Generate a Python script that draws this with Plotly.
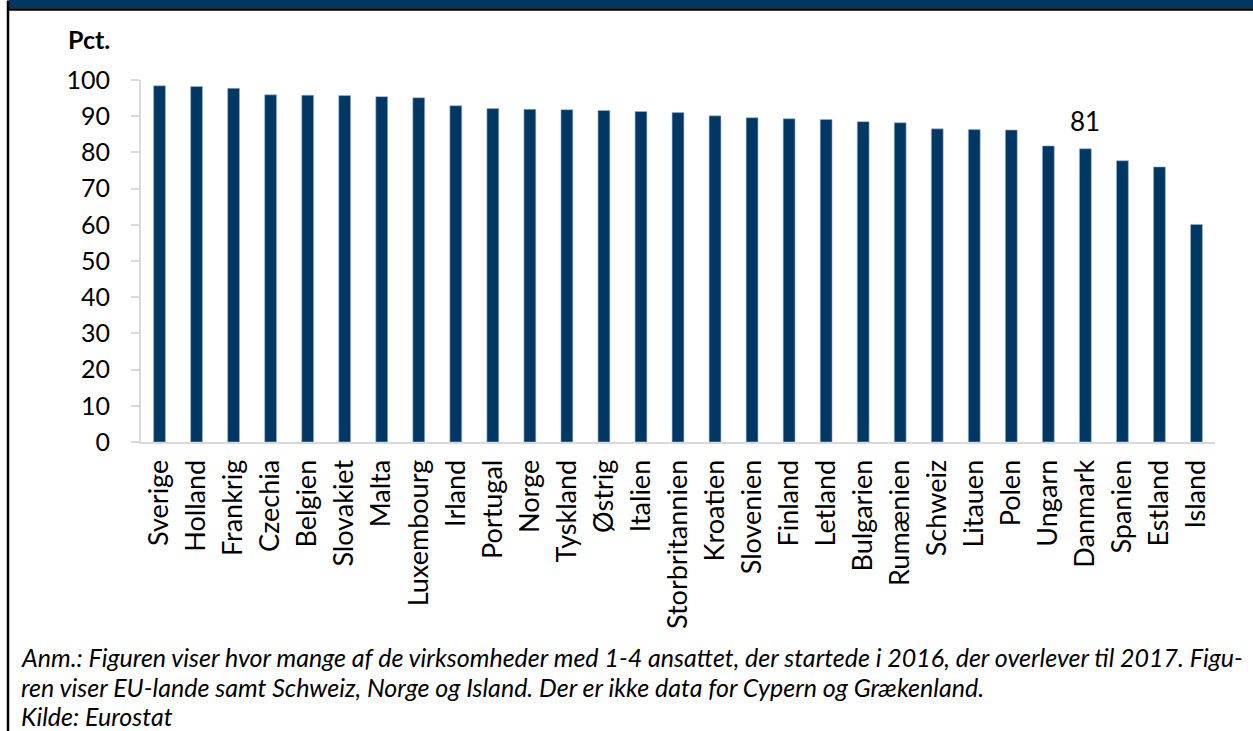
import plotly.graph_objects as go

countries = ["Sverige", "Holland", "Frankrig", "Czechia", "Belgien", "Slovakiet", "Malta",
             "Luxembourg", "Irland", "Portugal", "Norge", "Tyskland", "Østrig", "Italien",
             "Storbritannien", "Kroatien", "Slovenien", "Finland", "Letland", "Bulgarien",
             "Rumænien", "Schweiz", "Litauen", "Polen", "Ungarn", "Danmark", "Spanien",
             "Estland", "Island"]
values = [98.4, 98.2, 97.7, 95.9, 95.8, 95.7, 95.4, 95.1, 92.9, 92.1, 91.9, 91.8, 91.6, 91.3,
          91.0, 90.1, 89.6, 89.3, 89.1, 88.5, 88.2, 86.5, 86.3, 86.2, 81.8, 81.0, 77.7,
          76.0, 60.1]
yticks = [0, 10, 20, 30, 40, 50, 60, 70, 80, 90, 100]
highlight = "Danmark"
highlight_label = "81"

W, H = 1253, 731
L, R, T, B = 141, 38, 79.5, 289
pw, ph = W - L - R, H - T - B


def px(x):
    return (x - L) / pw


def py(y):
    return (H - B - y) / ph


NAVY = "#003763"
FONT = "Lato"

fig = go.Figure()
fig.add_trace(go.Bar(
    x=countries, y=values,
    marker=dict(color=NAVY, line=dict(color="#9bb8d3", width=0.6)),
    hoverinfo="x+y",
))

fig.add_annotation(x=highlight, y=values[countries.index(highlight)], text=highlight_label,
                   showarrow=False, yanchor="bottom", yshift=10,
                   font=dict(family=FONT, size=26, color="#000000"))

fig.add_annotation(xref="paper", yref="paper", x=px(89), y=py(38), text="<b>Pct.</b>",
                   showarrow=False, xanchor="center", yanchor="middle",
                   font=dict(family=FONT, size=25, color="#000000"))

footer = [
    "Anm.: Figuren viser hvor mange af de virksomheder med 1-4 ansattet, der startede i 2016, der overlever til 2017. Figu-",
    "ren viser EU-lande samt Schweiz, Norge og Island. Der er ikke data for Cypern og Grækenland.",
    "Kilde: Eurostat",
]
for line, yc in zip(footer, [657, 687, 716]):
    fig.add_annotation(xref="paper", yref="paper", x=px(19), y=py(yc), text="<i>" + line + "</i>",
                       showarrow=False, xanchor="left", yanchor="middle",
                       font=dict(family=FONT, size=25, color="#000000"))

# Frame: top navy band, black rule, left border
fig.add_shape(type="rect", xref="paper", yref="paper", x0=px(9), x1=px(1260), y0=py(8), y1=py(-5),
              fillcolor=NAVY, line=dict(width=0), layer="above")
fig.add_shape(type="line", xref="paper", yref="paper", x0=px(8), x1=px(1260), y0=py(9), y1=py(9),
              line=dict(color="#000000", width=2.5), layer="above")
fig.add_shape(type="line", xref="paper", yref="paper", x0=px(8), x1=px(8), y0=py(0), y1=py(740),
              line=dict(color="#000000", width=2.5), layer="above")

fig.update_layout(
    width=W, height=H,
    margin=dict(l=L, r=R, t=T, b=B, autoexpand=False),
    paper_bgcolor="#ffffff", plot_bgcolor="#ffffff",
    showlegend=False,
    bargap=0.68,
    font=dict(family=FONT, color="#000000"),
)
fig.update_xaxes(
    tickangle=-90, tickfont=dict(family=FONT, size=27, color="#000000"),
    showline=True, linecolor="#d9d9d9", linewidth=2,
    showgrid=False, ticks="", ticklen=0, ticklabelstandoff=5,
)
fig.update_yaxes(
    range=[0, 100], tickvals=yticks, ticktext=[str(v) for v in yticks],
    tickfont=dict(family=FONT, size=25, color="#000000"),
    showline=True, linecolor="#d9d9d9", linewidth=2,
    ticks="outside", ticklen=8, tickcolor="#d9d9d9", tickwidth=2,
    showgrid=False, zeroline=False, ticklabelstandoff=16,
)

fig.write_html("out.html", config={"displayModeBar": False},
               post_script="document.body.style.margin='0';document.body.style.overflow='hidden';")
